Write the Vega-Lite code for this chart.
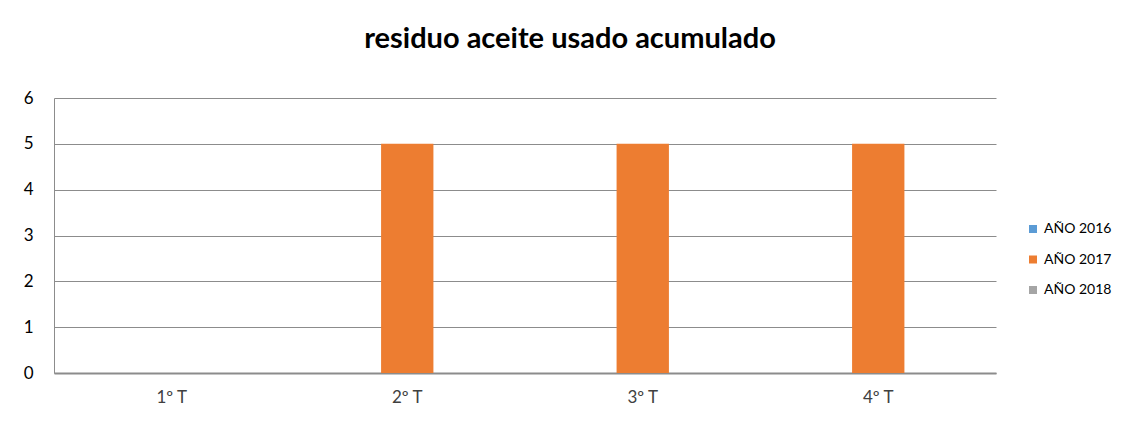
{
  "$schema": "https://vega.github.io/schema/vega-lite/v6.json",
  "width": 942,
  "height": 275,
  "autosize": {"type": "none"},
  "padding": {"left": 54, "top": 98, "right": 138, "bottom": 53},
  "background": "white",
  "title": {
    "text": "residuo aceite usado acumulado",
    "font": "Lato",
    "fontSize": 29,
    "fontWeight": "bold",
    "color": "#000000",
    "anchor": "middle",
    "dx": 45,
    "baseline": "alphabetic",
    "offset": 12
  },
  "data": {
    "values": [
      {"trimestre": "1º T", "serie": "AÑO 2016", "valor": 0},
      {"trimestre": "1º T", "serie": "AÑO 2017", "valor": 0},
      {"trimestre": "1º T", "serie": "AÑO 2018", "valor": 0},
      {"trimestre": "2º T", "serie": "AÑO 2016", "valor": 0},
      {"trimestre": "2º T", "serie": "AÑO 2017", "valor": 5},
      {"trimestre": "2º T", "serie": "AÑO 2018", "valor": 0},
      {"trimestre": "3º T", "serie": "AÑO 2016", "valor": 0},
      {"trimestre": "3º T", "serie": "AÑO 2017", "valor": 5},
      {"trimestre": "3º T", "serie": "AÑO 2018", "valor": 0},
      {"trimestre": "4º T", "serie": "AÑO 2016", "valor": 0},
      {"trimestre": "4º T", "serie": "AÑO 2017", "valor": 5},
      {"trimestre": "4º T", "serie": "AÑO 2018", "valor": 0}
    ]
  },
  "mark": {"type": "bar"},
  "encoding": {
    "x": {
      "field": "trimestre",
      "type": "nominal",
      "sort": null,
      "scale": {"paddingInner": 0, "paddingOuter": 0},
      "axis": {
        "title": null,
        "labelAngle": 0,
        "labelFont": "Lato",
        "labelFontSize": 17,
        "labelColor": "#404040",
        "labelPadding": 16,
        "ticks": false,
        "domainColor": "#8c8c8c",
        "domainWidth": 2,
        "grid": false
      }
    },
    "xOffset": {
      "field": "serie",
      "type": "nominal",
      "scale": {"paddingInner": 0, "paddingOuter": 0.75}
    },
    "y": {
      "field": "valor",
      "type": "quantitative",
      "scale": {"domain": [0, 6], "nice": false},
      "axis": {
        "title": null,
        "values": [0, 1, 2, 3, 4, 5, 6],
        "format": "d",
        "labelFont": "Lato",
        "labelFontSize": 17,
        "labelColor": "#000000",
        "labelPadding": 21,
        "ticks": false,
        "domainColor": "#8c8c8c",
        "domainWidth": 1,
        "grid": true,
        "gridColor": "#8c8c8c",
        "gridWidth": 1
      }
    },
    "color": {
      "field": "serie",
      "type": "nominal",
      "scale": {
        "domain": ["AÑO 2016", "AÑO 2017", "AÑO 2018"],
        "range": ["#5B9BD5", "#ED7D31", "#A5A5A5"]
      },
      "legend": {
        "title": null,
        "orient": "none",
        "legendX": 972,
        "legendY": 124,
        "symbolType": "square",
        "symbolSize": 64,
        "symbolStrokeWidth": 0,
        "labelFont": "Lato",
        "labelFontSize": 14,
        "labelColor": "#000000",
        "labelOffset": 4,
        "rowPadding": 16.5
      }
    }
  },
  "config": {
    "view": {"stroke": null}
  }
}
